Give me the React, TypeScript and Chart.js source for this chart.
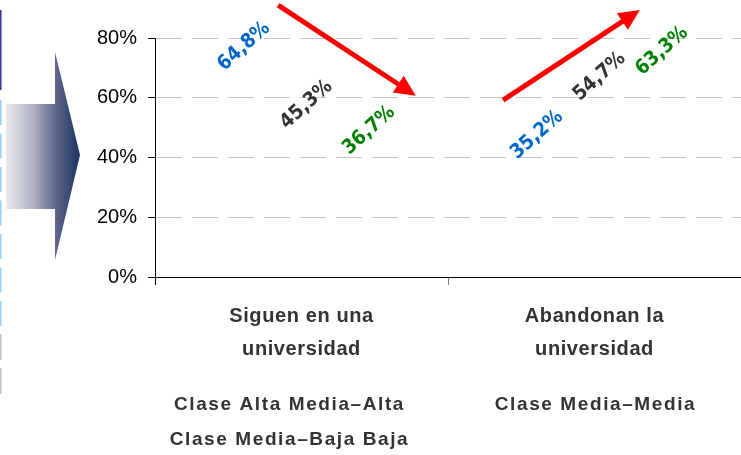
import React, { useEffect, useRef } from 'react';
import { Chart, registerables } from 'chart.js';

Chart.register(...registerables);

// ---- Data ----
const categories = ['Siguen en una universidad', 'Abandonan la universidad'];
const categoryLines = [
  ['Siguen en una', 'universidad'],
  ['Abandonan la', 'universidad'],
];
const classLines = [
  ['Clase Alta Media–Alta', 'Clase Media–Baja Baja'],
  ['Clase Media–Media'],
];
const seriesNames = ['Clase Alta y Media–Alta', 'Clase Media–Media', 'Clase Media–Baja y Baja'];
const seriesAltaValues = [64.8, 35.2];
const seriesMediaValues = [45.3, 54.7];
const seriesBajaValues = [36.7, 63.3];
const seriesColors = ['#0066CC', '#333333', '#008000'];
const yTicks = [0, 20, 40, 60, 80];
// Trend arrows in data space: [category index, percent]
const arrowFrom = [
  [-0.08, 91.0],
  [0.688, 59.2],
];
const arrowTo = [
  [0.39, 60.7],
  [1.155, 89.4],
];

const seriesValues = [seriesAltaValues, seriesMediaValues, seriesBajaValues];
const fmt = (v: number) => v.toFixed(1).replace('.', ',') + '%';
const SANS = '"Liberation Sans", Arial, sans-serif';

const decorPlugin = {
  id: 'decor',
  beforeDraw(chart: any) {
    const ctx = chart.ctx;
    ctx.save();
    ctx.fillStyle = '#333399';
    ctx.fillRect(0, 10, 1.5, 80);
    ctx.fillStyle = '#99ccff';
    for (let i = 0; i < 7; i++) ctx.fillRect(0, 100 + i * 33.5, 1.5, 25);
    ctx.fillStyle = '#c0c0c0';
    for (let i = 0; i < 2; i++) ctx.fillRect(0, 334 + i * 34, 1.5, 26);
    const g = ctx.createLinearGradient(6, 0, 80, 0);
    g.addColorStop(0, '#e9eaee');
    g.addColorStop(0.35, '#b3b6c4');
    g.addColorStop(0.68, '#5d6688');
    g.addColorStop(1, '#1a3261');
    ctx.fillStyle = g;
    ctx.beginPath();
    ctx.moveTo(6, 104);
    ctx.lineTo(55, 104);
    ctx.lineTo(55, 52);
    ctx.lineTo(80, 155);
    ctx.lineTo(55, 260);
    ctx.lineTo(55, 209);
    ctx.lineTo(6, 209);
    ctx.closePath();
    ctx.fill();
    ctx.restore();
  },
  afterDraw(chart: any) {
    const ctx = chart.ctx;
    const xs = chart.scales.x;
    const ys = chart.scales.y;
    seriesValues.forEach((vals, i) => {
      const meta = chart.getDatasetMeta(i);
      meta.data.forEach((bar: any, j: number) => {
        const x = bar.x + 5;
        const y = ys.getPixelForValue(vals[j]) - 37;
        ctx.save();
        ctx.translate(x, y);
        ctx.rotate((-42 * Math.PI) / 180);
        ctx.font = 'bold 20px "DejaVu Sans Condensed", "DejaVu Sans", sans-serif';
        ctx.fillStyle = seriesColors[i];
        ctx.textAlign = 'center';
        ctx.textBaseline = 'middle';
        ctx.fillText(fmt(vals[j]), 0, 0);
        ctx.restore();
      });
    });
    arrowFrom.forEach((from, k) => {
      const to = arrowTo[k];
      const x0 = xs.getPixelForValue(from[0]);
      const y0 = ys.getPixelForValue(from[1]);
      const x1 = xs.getPixelForValue(to[0]);
      const y1 = ys.getPixelForValue(to[1]);
      const a = Math.atan2(y1 - y0, x1 - x0);
      const hl = 21;
      const hw = 10;
      const bx = x1 - hl * Math.cos(a);
      const by = y1 - hl * Math.sin(a);
      ctx.save();
      ctx.strokeStyle = '#ff0000';
      ctx.fillStyle = '#ff0000';
      ctx.lineWidth = 5;
      ctx.beginPath();
      ctx.moveTo(x0, y0);
      ctx.lineTo(bx + 2 * Math.cos(a), by + 2 * Math.sin(a));
      ctx.stroke();
      ctx.beginPath();
      ctx.moveTo(x1, y1);
      ctx.lineTo(bx + hw * Math.sin(a), by - hw * Math.cos(a));
      ctx.lineTo(bx - hw * Math.sin(a), by + hw * Math.cos(a));
      ctx.closePath();
      ctx.fill();
      ctx.restore();
    });
    ctx.save();
    ctx.fillStyle = '#333333';
    ctx.textAlign = 'center';
    ctx.textBaseline = 'middle';
    const classOffsets = [-12, 1];
    categories.forEach((_, i) => {
      const cx = xs.getPixelForValue(i);
      ctx.font = `bold 20px ${SANS}`;
      (ctx as any).letterSpacing = '0.6px';
      categoryLines[i].forEach((line, l) => {
        ctx.fillText(line, cx, 316 + l * 33);
      });
      ctx.font = `bold 19px ${SANS}`;
      (ctx as any).letterSpacing = '1.6px';
      classLines[i].forEach((line, l) => {
        ctx.fillText(line, cx + classOffsets[i], 405 + l * 35);
      });
    });
    (ctx as any).letterSpacing = '0px';
    ctx.restore();
  },
};

export default function App() {
  const ref = useRef<HTMLCanvasElement>(null);
  useEffect(() => {
    const chart = new Chart(ref.current!, {
      type: 'bar',
      data: {
        labels: categories,
        datasets: seriesValues.map((vals, i) => ({
          label: seriesNames[i],
          data: vals,
          backgroundColor: 'rgba(0,0,0,0)',
          borderWidth: 0,
          categoryPercentage: 0.64,
          barPercentage: 1,
        })),
      },
      options: {
        animation: false,
        responsive: false,
        layout: { padding: { top: 38, left: 0, right: 0, bottom: 0 } },
        plugins: { legend: { display: false }, tooltip: { enabled: false } },
        scales: {
          x: {
            afterFit: (s: any) => {
              s.height = 178;
            },
            grid: {
              drawOnChartArea: false,
              drawTicks: true,
              tickLength: 8,
              color: (c: any) => (c.index === 0 ? '#000000' : '#808080'),
            },
            border: { color: '#000000', width: 1 },
            ticks: { callback: () => '' },
          },
          y: {
            min: 0,
            max: 80,
            afterFit: (s: any) => {
              s.width = 155;
            },
            afterBuildTicks: (s: any) => {
              s.ticks = yTicks.map((v) => ({ value: v }));
            },
            ticks: {
              callback: (v: any) => v + '%',
              font: { family: SANS, size: 20 },
              color: '#000000',
              padding: 11,
            },
            grid: {
              color: '#c4c4c4',
              tickColor: '#000000',
              tickLength: 7,
              tickBorderDash: [],
            },
            border: { color: '#000000', width: 1, dash: [26, 10] },
          },
        },
      },
      plugins: [decorPlugin],
    });
    return () => chart.destroy();
  }, []);
  return (
    <div style={{ position: 'absolute', left: 0, top: 0, width: 741, height: 455 }}>
      <canvas ref={ref} width={741} height={455} />
    </div>
  );
}
